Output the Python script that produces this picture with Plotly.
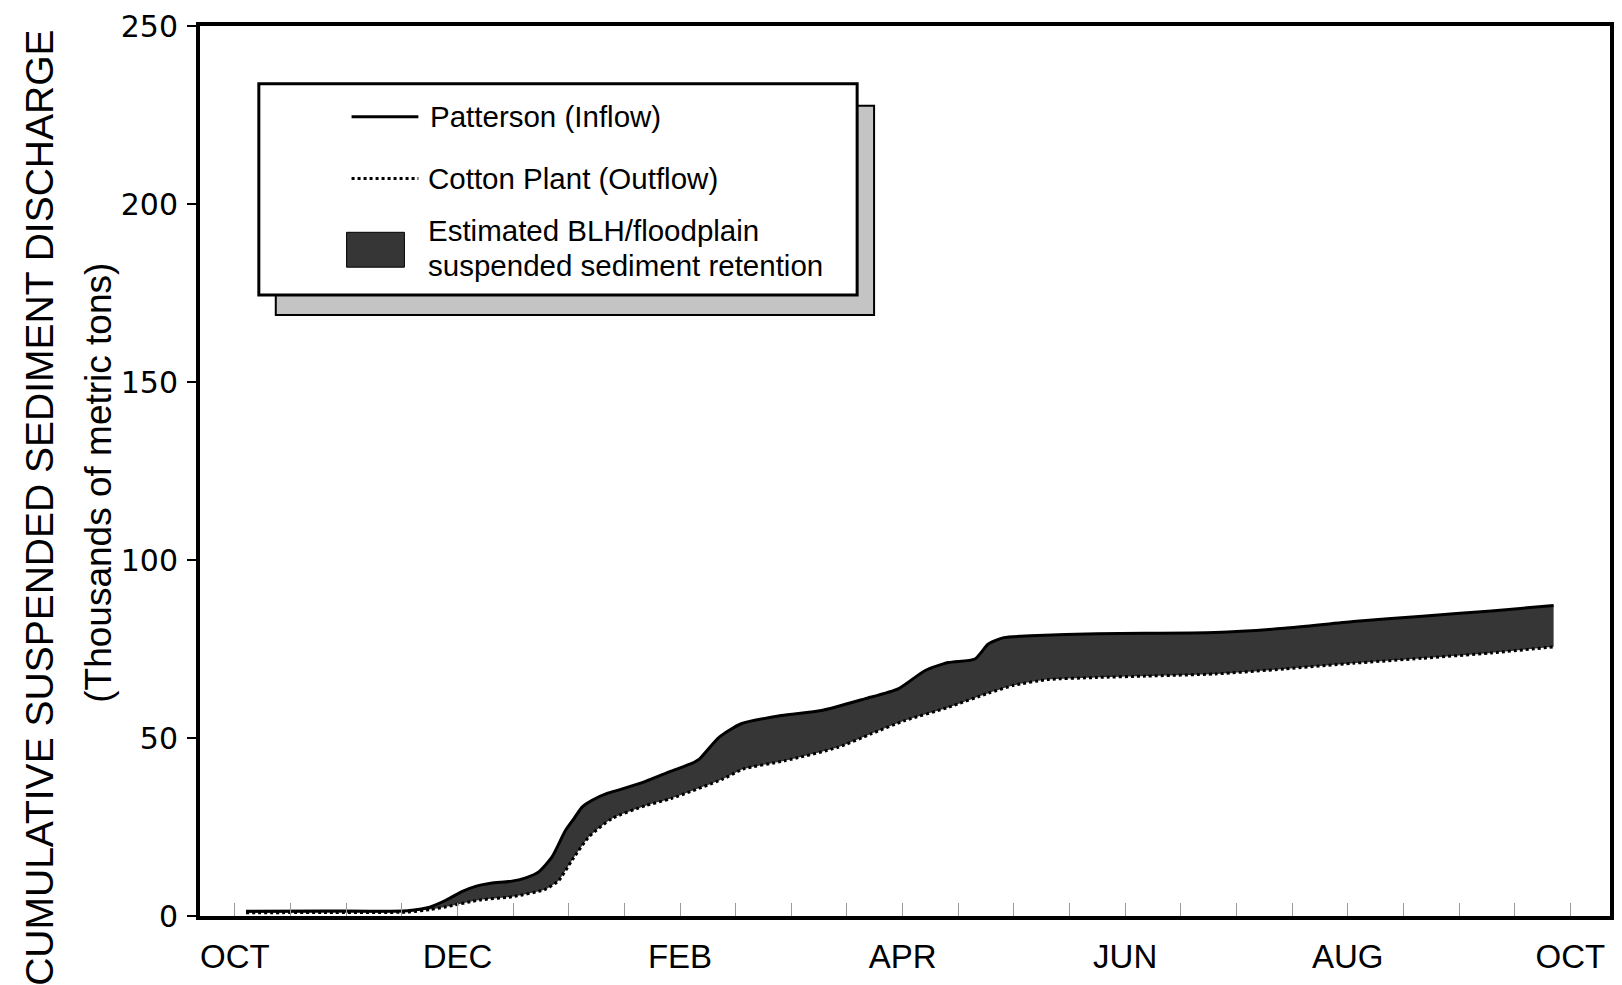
import plotly.graph_objects as go

# Time axis in months since 1 October (water year), values in thousands of metric tons
inflow_month = [0.10, 0.80, 1.55, 1.75, 1.90, 2.05, 2.17, 2.30, 2.49, 2.62, 2.73, 2.85,
                2.97, 3.05, 3.12, 3.21, 3.35, 3.46, 3.69, 3.92, 4.10, 4.17, 4.35, 4.55,
                4.91, 5.27, 5.66, 5.96, 6.20, 6.41, 6.65, 6.77, 6.91, 7.15, 7.75, 8.81,
                9.43, 10.05, 10.67, 11.29, 11.85]
inflow_tons = [1.3, 1.4, 1.5, 2.5, 4.5, 7.0, 8.4, 9.2, 9.8, 10.8, 12.4, 16.6,
               24.0, 27.5, 30.6, 32.5, 34.5, 35.5, 37.8, 40.7, 42.8, 44.0, 50.2, 54.0,
               56.3, 57.7, 61.0, 63.8, 68.9, 71.2, 72.2, 76.4, 78.2, 78.7, 79.3, 79.6,
               80.8, 82.7, 84.2, 85.7, 87.2]

outflow_month = [0.10, 0.80, 1.55, 1.75, 1.90, 2.20, 2.49, 2.79, 2.91, 3.03, 3.18, 3.39,
                 3.69, 3.92, 4.38, 4.57, 4.94, 5.42, 5.72, 6.02, 6.41, 6.77, 7.00, 7.30,
                 7.75, 8.19, 8.81, 9.43, 10.05, 10.67, 11.29, 11.85]
outflow_tons = [0.9, 1.0, 1.1, 1.8, 2.6, 4.5, 5.4, 7.5, 10.0, 15.7, 22.2, 27.4,
                31.0, 33.0, 38.4, 41.3, 43.6, 47.4, 51.2, 54.9, 58.6, 62.6, 64.8, 66.4,
                67.0, 67.4, 68.0, 69.4, 71.0, 72.4, 73.9, 75.6]

month_ticks = [i * 0.5 for i in range(25)]
month_names = {0: "OCT", 2: "DEC", 4: "FEB", 6: "APR", 8: "JUN", 10: "AUG", 12: "OCT"}
month_text = [month_names.get(int(t), "") if t == int(t) else "" for t in month_ticks]

y_ticks = [0, 50, 100, 150, 200, 250]

legend_labels = ["Patterson (Inflow)", "Cotton Plant (Outflow)",
                 "Estimated BLH/floodplain", "suspended sediment retention"]

SANS = "Liberation Sans, Arial, Helvetica, sans-serif"
WIDE = "DejaVu Sans, Verdana, sans-serif"
BAND = "#363636"

W, H = 1622, 985
L, R, T, B = 200, 8, 23, 69
PW, PH = W - L - R, H - T - B


def px(x):
    return (x - L) / PW


def py(y):
    return (H - B - y) / PH


fig = go.Figure()

# Outflow (lower boundary, dotted)
fig.add_trace(go.Scatter(
    x=outflow_month, y=outflow_tons, mode="lines",
    line=dict(color="black", width=3, dash="dot", shape="spline", smoothing=0.6),
    showlegend=False, hoverinfo="skip"))

# Inflow (upper boundary, solid) with retention band filled down to the outflow
fig.add_trace(go.Scatter(
    x=inflow_month, y=inflow_tons, mode="lines",
    line=dict(color="black", width=3, shape="spline", smoothing=0.6),
    fill="tonexty", fillcolor=BAND,
    showlegend=False, hoverinfo="skip"))

shapes = [
    # legend shadow and box
    dict(type="rect", xref="paper", yref="paper",
         x0=px(276), x1=px(876), y0=py(313), y1=py(103),
         fillcolor="#c4c4c4", line=dict(color="black", width=2), layer="above"),
    dict(type="rect", xref="paper", yref="paper",
         x0=px(259), x1=px(859), y0=py(293), y1=py(81),
         fillcolor="white", line=dict(color="black", width=3), layer="above"),
    # legend samples
    dict(type="line", xref="paper", yref="paper",
         x0=px(352), x1=px(419), y0=py(114), y1=py(114),
         line=dict(color="black", width=3), layer="above"),
    dict(type="line", xref="paper", yref="paper",
         x0=px(352), x1=px(419), y0=py(176), y1=py(176),
         line=dict(color="black", width=3, dash="dot"), layer="above"),
    dict(type="rect", xref="paper", yref="paper",
         x0=px(347), x1=px(405), y0=py(265), y1=py(230),
         fillcolor=BAND, line=dict(color="black", width=1), layer="above"),
]

annotations = [
    dict(text=legend_labels[0], x=px(429), y=py(114)),
    dict(text=legend_labels[1], x=px(427), y=py(176)),
    dict(text=legend_labels[2], x=px(427), y=py(228)),
    dict(text=legend_labels[3], x=px(427), y=py(263)),
]
annotations = [dict(a, xref="paper", yref="paper", xanchor="left", yanchor="middle",
                    showarrow=False, font=dict(family=SANS, size=29.5, color="black"))
               for a in annotations]

# Y-axis titles (two lines, rotated)
annotations += [
    dict(text="CUMULATIVE SUSPENDED SEDIMENT DISCHARGE", x=px(39), y=py(506),
         xref="paper", yref="paper", xanchor="center", yanchor="middle",
         textangle=-90, showarrow=False,
         font=dict(family=SANS, size=39, color="black")),
    dict(text="(Thousands of metric tons)", x=px(98), y=py(481),
         xref="paper", yref="paper", xanchor="center", yanchor="middle",
         textangle=-90, showarrow=False,
         font=dict(family=SANS, size=37, color="black")),
]

fig.update_layout(
    width=W, height=H, autosize=False,
    margin=dict(l=L, r=R, t=T, b=B),
    paper_bgcolor="white", plot_bgcolor="white",
    shapes=shapes, annotations=annotations,
    xaxis=dict(
        range=[(L - 235) / 111.6, (W - R - 235) / 111.6],
        tickmode="array", tickvals=month_ticks, ticktext=month_text,
        ticks="inside", ticklen=13, tickwidth=1, tickcolor="#9a9a9a",
        tickfont=dict(family=SANS, size=33, color="black"),
        showline=True, linecolor="black", linewidth=4, mirror=True,
        showgrid=False, zeroline=False, ticklabelstandoff=8),
    yaxis=dict(
        range=[0, 250],
        tickmode="array", tickvals=y_ticks,
        ticks="outside", ticklen=9, tickwidth=1.5, tickcolor="black",
        tickfont=dict(family=WIDE, size=30, color="black"),
        showline=True, linecolor="black", linewidth=4, mirror=True,
        showgrid=False, zeroline=False, ticklabelstandoff=3),
)

fig.write_html("out.html")
